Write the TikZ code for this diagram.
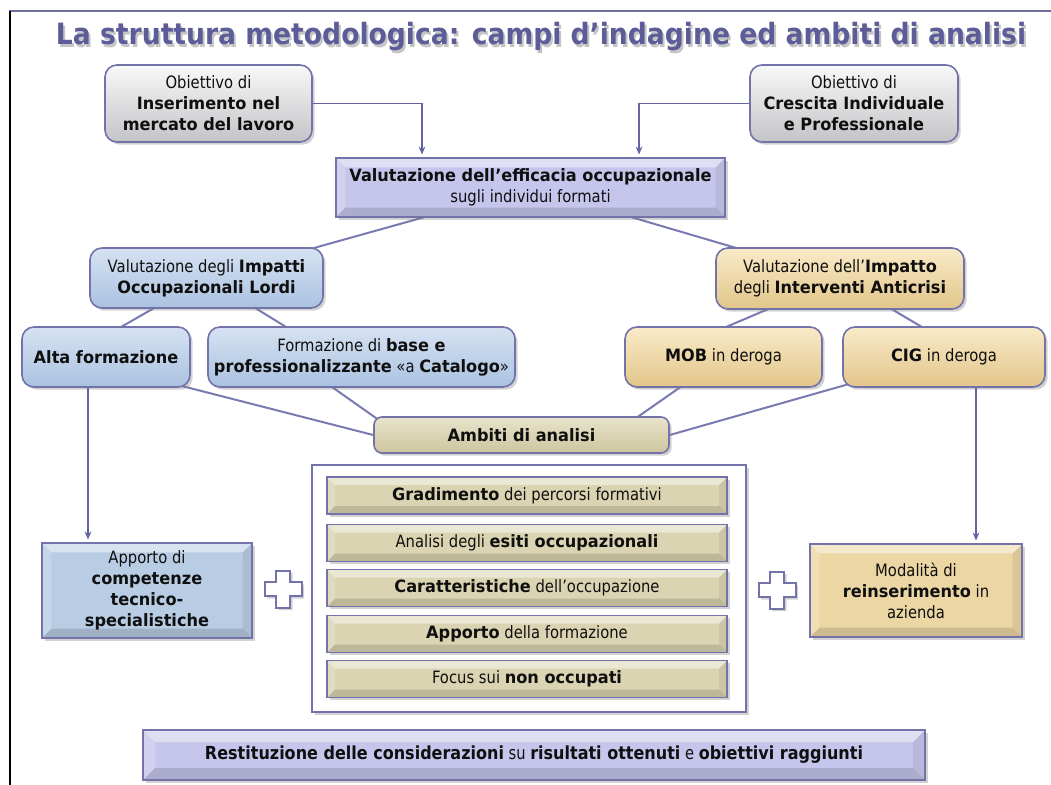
\documentclass[tikz,border=0pt]{standalone}
\usepackage{fontspec}
\setmainfont{DejaVu Sans}[UprightFeatures={FakeStretch=0.87},BoldFeatures={FakeStretch=0.95}]
\usepackage{graphicx}
\usetikzlibrary{shadows,backgrounds,calc,arrows.meta}

\definecolor{bord}{RGB}{115,115,170}
\definecolor{linec}{RGB}{122,122,178}
\definecolor{arrc}{RGB}{100,100,160}
\definecolor{titlec}{RGB}{92,92,152}
\definecolor{gray1}{RGB}{248,248,248}
\definecolor{gray2}{RGB}{196,196,200}
\definecolor{blue1}{RGB}{214,226,242}
\definecolor{blue2}{RGB}{170,194,224}
\definecolor{tan1}{RGB}{249,234,200}
\definecolor{tan2}{RGB}{226,198,138}
\definecolor{kh1}{RGB}{232,228,204}
\definecolor{kh2}{RGB}{204,197,158}
\definecolor{purp}{RGB}{198,198,236}
\definecolor{bluef}{RGB}{184,204,228}
\definecolor{tanf}{RGB}{236,214,164}
\definecolor{khf}{RGB}{218,212,178}
\definecolor{framec}{RGB}{110,110,160}
\definecolor{framed}{RGB}{45,45,75}
\definecolor{txt}{RGB}{15,15,15}

\newcommand\bodyfont{\fontsize{12.75}{15.75}\selectfont}
\newcommand\titletext{\resizebox{727.5pt}{\height}{\fontsize{22}{26}\selectfont\bfseries La struttura metodologica: campi d’indagine ed ambiti di analisi}}

\tikzset{
  bevel/.style={path picture={
    \fill[white,opacity=.45] (path picture bounding box.north west) -- (path picture bounding box.north east) -- ([shift={(-#1,-#1)}]path picture bounding box.north east) -- ([shift={(#1,-#1)}]path picture bounding box.north west) -- cycle;
    \fill[white,opacity=.2] (path picture bounding box.north west) -- ([shift={(#1,-#1)}]path picture bounding box.north west) -- ([shift={(#1,#1)}]path picture bounding box.south west) -- (path picture bounding box.south west) -- cycle;
    \fill[black,opacity=.13] (path picture bounding box.south west) -- ([shift={(#1,#1)}]path picture bounding box.south west) -- ([shift={(-#1,#1)}]path picture bounding box.south east) -- (path picture bounding box.south east) -- cycle;
    \fill[black,opacity=.07] (path picture bounding box.north east) -- ([shift={(-#1,-#1)}]path picture bounding box.north east) -- ([shift={(-#1,#1)}]path picture bounding box.south east) -- (path picture bounding box.south east) -- cycle;
  }},
  bevel/.default=7pt,
  shad/.style={drop shadow={shadow xshift=2pt,shadow yshift=-2pt,opacity=.35}},
  rbox/.style={draw=bord, line width=1.2pt, rounded corners=9pt, align=center, inner sep=0pt, text=txt, font=\bodyfont, shad},
  graybox/.style={rbox, top color=gray1, bottom color=gray2},
  bluebox/.style={rbox, top color=blue1, bottom color=blue2},
  tanbox/.style={rbox, top color=tan1, bottom color=tan2},
  khakibox/.style={rbox, top color=kh1, bottom color=kh2},
  bvbox/.style={draw=bord, line width=1.2pt, align=center, inner sep=0pt, text=txt, font=\bodyfont, shad, bevel},
  barbox/.style={bvbox, bevel=6pt, fill=khf, line width=1pt, minimum width=300pt, minimum height=27.75pt},
  conn/.style={draw=linec, line width=1.5pt},
  arr/.style={draw=arrc, line width=1.2pt, -{Stealth[length=6pt,width=5pt]}, shorten >=2pt},
  plusst/.style={draw=bord, line width=1.5pt, fill=white, shad},
}

\begin{document}
\begin{tikzpicture}[x=0.75pt,y=-0.75pt]
\useasboundingbox (0,0) rectangle (1051,785);

% frame
\draw[framec, line width=1.5pt] (9,11) -- (1051,11);
\draw[framed, line width=1.5pt] (10,11) -- (10,785);

% title
\node[anchor=base, text=black!50, opacity=.45] (titlesh) at (543,47) {\titletext};
\node[anchor=base, text=titlec] (title) at (541,45) {\titletext};

% top boxes
\node[graybox, minimum width=155.25pt, minimum height=57.75pt] (obL) at (208.5,103.5)
  {Obiettivo di\\\textbf{Inserimento nel}\\\textbf{mercato del lavoro}};
\node[graybox, minimum width=156pt, minimum height=57.75pt] (obR) at (854,103.5)
  {Obiettivo di\\\textbf{Crescita Individuale}\\\textbf{e Professionale}};
\node[bvbox, fill=purp, minimum width=291.75pt, minimum height=44.25pt] (val) at (530.5,187.5)
  {\textbf{Valutazione dell’efficacia occupazionale}\\sugli individui formati};

% second level
\node[bluebox, minimum width=174.75pt, minimum height=45pt] (imp) at (206.5,278)
  {Valutazione degli \textbf{Impatti}\\\textbf{Occupazionali Lordi}};
\node[tanbox, minimum width=186pt, minimum height=45.75pt] (anti) at (840,278.5)
  {Valutazione dell’\textbf{Impatto}\\degli \textbf{Interventi Anticrisi}};

% third level
\node[bluebox, minimum width=126pt, minimum height=45pt] (alta) at (106,357) {\textbf{Alta formazione}};
\node[bluebox, minimum width=230.25pt, minimum height=45pt] (form) at (361.5,357)
  {Formazione di \textbf{base e}\\\textbf{professionalizzante} «a \textbf{Catalogo}»};
\node[tanbox, minimum width=147.75pt, minimum height=45pt] (mob) at (723.5,357) {\textbf{MOB} in deroga};
\node[tanbox, minimum width=151.5pt, minimum height=45pt] (cig) at (944,357) {\textbf{CIG} in deroga};

% ambiti
\node[khakibox, rounded corners=6pt, minimum width=221.25pt, minimum height=27pt] (amb) at (521.5,435)
  {\textbf{Ambiti di analisi}};

% panel and bars
\node[draw=bord, line width=1pt, fill=white, shad, minimum width=325.5pt, minimum height=185.25pt] (panel) at (529,588.5) {};
\node[barbox] (b1) at (527,495.5) {\textbf{Gradimento} dei percorsi formativi};
\node[barbox] (b2) at (527,543) {Analisi degli \textbf{esiti occupazionali}};
\node[barbox] (b3) at (527,588) {\textbf{Caratteristiche} dell’occupazione};
\node[barbox] (b4) at (527,634) {\textbf{Apporto} della formazione};
\node[barbox] (b5) at (527,679) {Focus sui \textbf{non occupati}};

% side boxes
\node[bvbox, fill=bluef, minimum width=157.5pt, minimum height=71.25pt] (app) at (147,590.5)
  {Apporto di\\\textbf{competenze}\\\textbf{tecnico-}\\\textbf{specialistiche}};
\node[bvbox, fill=tanf, minimum width=159pt, minimum height=69.75pt] (mod) at (916,590.5)
  {Modalità di\\\textbf{reinserimento} in\\azienda};

% bottom bar
\node[bvbox, bevel=9pt, fill=purp, minimum width=586.5pt, minimum height=37.5pt] (rest) at (534,755)
  {\resizebox{493.5pt}{\height}{\fontsize{13.5}{15}\selectfont\textbf{Restituzione delle considerazioni} su \textbf{risultati ottenuti} e \textbf{obiettivi raggiunti}}};

% plus signs
\coordinate (plusL) at (283,589);
\coordinate (plusR) at (777,590);
\foreach \p in {plusL,plusR}{
  \begin{scope}[shift={(\p)}]
    \draw[plusst] (-7,-18.5) -- (7,-18.5) -- (7,-7) -- (18.5,-7) -- (18.5,7) -- (7,7) -- (7,18.5)
      -- (-7,18.5) -- (-7,7) -- (-18.5,7) -- (-18.5,-7) -- (-7,-7) -- cycle;
  \end{scope}
}

% background and connectors behind boxes
\begin{scope}[on background layer]
  \fill[white] (0,0) rectangle (1051,785);
  \draw[conn] (val.center) -- (imp.center);
  \draw[conn] (val.center) -- (anti.center);
  \coordinate (altaP) at ([xshift=-28pt]alta.center);
  \draw[conn] (imp.center) -- (altaP);
  \draw[conn] (imp.center) -- ([xshift=-20pt]form.center);
  \draw[conn] (anti.center) -- ([xshift=-51pt]mob.center);
  \draw[conn] (anti.center) -- ([xshift=21.4pt]cig.center);
  \draw[conn] (altaP) -- (amb.west);
  \draw[conn] ([xshift=-54pt]form.center) -- ([shift={(-96.4pt,3.75pt)}]amb.center);
  \draw[conn] (mob.center) -- ([shift={(73.1pt,3.75pt)}]amb.center);
  \draw[conn] (cig.center) -- (amb.east);
\end{scope}

% arrows
\draw[arr] (obL.east) -| ([xshift=-81.4pt]val.north);
\draw[arr] (obR.west) -| ([xshift=81.4pt]val.north);
\draw[arr] ([xshift=-13.5pt]alta.south) -- ([xshift=-13.5pt]alta.south |- app.north);
\draw[arr] ([xshift=24pt]cig.south) -- ([xshift=24pt]cig.south |- mod.north);
\end{tikzpicture}
\end{document}
